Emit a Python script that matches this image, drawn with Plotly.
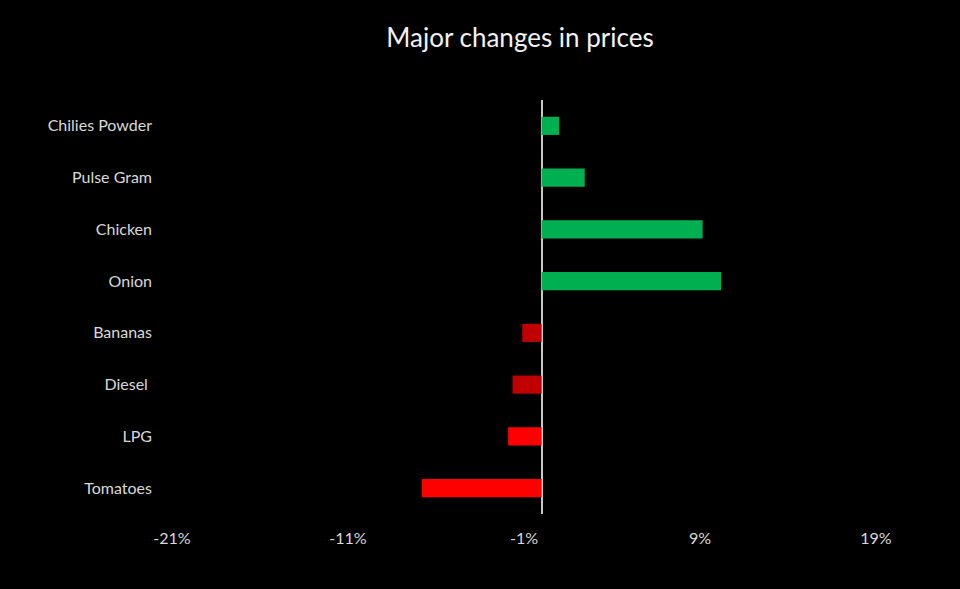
import plotly.graph_objects as go

# categories from top to bottom as shown in the chart
items = ["Chilies Powder", "Pulse Gram", "Chicken", "Onion", "Bananas", "Diesel ", "LPG", "Tomatoes"]
changes = [1.0, 2.45, 9.15, 10.2, -1.1, -1.65, -1.9, -6.8]
bar_colors = ["#00B050", "#00B050", "#00B050", "#00B050", "#C00000", "#C00000", "#FF0000", "#FF0000"]

tick_vals = [-21, -11, -1, 9, 19]
tick_text = ["-21%", "-11%", "-1%", "9%", "19%"]

fig = go.Figure(go.Bar(
    x=changes,
    y=items,
    orientation="h",
    marker=dict(color=bar_colors, line=dict(width=0)),
    width=0.35,
))

fig.update_layout(
    title=dict(
        text="Major changes in prices",
        x=520 / 960, xanchor="center",
        y=1 - 38 / 589, yanchor="middle",
        font=dict(family="Lato", size=26, color="#F2F2F2"),
    ),
    paper_bgcolor="black",
    plot_bgcolor="black",
    width=960,
    height=589,
    margin=dict(l=172, r=84, t=100, b=75),
    showlegend=False,
    font=dict(family="Lato", color="#D9D9D9", size=16),
    xaxis=dict(
        range=[-21, 19],
        tickvals=tick_vals,
        ticktext=tick_text,
        showgrid=False,
        zeroline=True,
        zerolinecolor="#C8C8C8",
        zerolinewidth=2,
        showline=False,
        ticklabelstandoff=13,
        tickfont=dict(family="Lato", size=16, color="#D9D9D9"),
    ),
    yaxis=dict(
        autorange="reversed",
        showgrid=False,
        zeroline=False,
        showline=False,
        ticklabelstandoff=19,
        tickfont=dict(family="Lato", size=16, color="#D9D9D9"),
    ),
)

# drop the default page margin so the black figure fills the window
fig.write_html(
    "out.html",
    config={"displayModeBar": False},
    post_script="document.body.style.margin='0';document.body.style.background='black';",
)
